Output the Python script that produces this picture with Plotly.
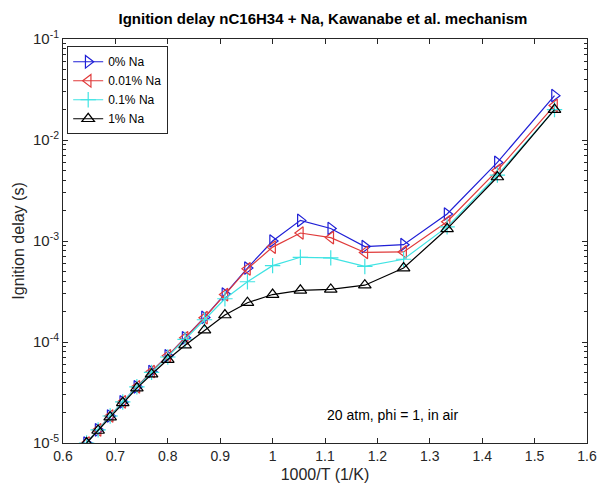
import plotly.graph_objects as go

inv_T = [0.645, 0.667, 0.690, 0.714, 0.741, 0.769, 0.800, 0.833, 0.870, 0.909,
         0.952, 1.000, 1.053, 1.111, 1.176, 1.250, 1.333, 1.429, 1.538]

na_0 = [1.0e-5, 1.35e-5, 1.85e-5, 2.55e-5, 3.6e-5, 5.1e-5, 7.3e-5, 1.1e-4, 1.75e-4, 2.98e-4,
        5.4e-4, 1.0e-3, 1.6e-3, 1.33e-3, 8.8e-4, 9.2e-4, 1.85e-3, 6.0e-3, 2.75e-2]
na_001 = [1.0e-5, 1.35e-5, 1.85e-5, 2.55e-5, 3.6e-5, 5.1e-5, 7.3e-5, 1.1e-4, 1.74e-4, 2.95e-4,
          5.3e-4, 8.7e-4, 1.2e-3, 1.08e-3, 7.7e-4, 7.8e-4, 1.55e-3, 5.0e-3, 2.2e-2]
na_01 = [1.0e-5, 1.35e-5, 1.85e-5, 2.55e-5, 3.6e-5, 5.0e-5, 7.1e-5, 1.06e-4, 1.66e-4, 2.68e-4,
         3.95e-4, 5.7e-4, 6.9e-4, 6.8e-4, 5.6e-4, 6.6e-4, 1.38e-3, 4.5e-3, 2.0e-2]
na_1 = [1.0e-5, 1.33e-5, 1.8e-5, 2.5e-5, 3.5e-5, 4.8e-5, 6.7e-5, 9.3e-5, 1.31e-4, 1.85e-4,
        2.45e-4, 2.95e-4, 3.25e-4, 3.32e-4, 3.65e-4, 5.4e-4, 1.32e-3, 4.3e-3, 2.0e-2]

series_names = ["0% Na", "0.01% Na", "0.1% Na", "1% Na"]
series_vals = [na_0, na_001, na_01, na_1]
colors = ["#1f1fd6", "#e03a3a", "#3fe3e3", "#000000"]
symbols = ["triangle-right-open", "triangle-left-open", "cross-thin-open", "triangle-up-open"]

x_ticks = [0.6, 0.7, 0.8, 0.9, 1.0, 1.1, 1.2, 1.3, 1.4, 1.5, 1.6]
x_ticktext = ["0.6", "0.7", "0.8", "0.9", "1", "1.1", "1.2", "1.3", "1.4", "1.5", "1.6"]
y_ticks = [1e-5, 1e-4, 1e-3, 1e-2, 1e-1]
y_ticktext = ["10<sup>-5</sup>", "10<sup>-4</sup>", "10<sup>-3</sup>", "10<sup>-2</sup>", "10<sup>-1</sup>"]
decades = [1e-5, 1e-4, 1e-3, 1e-2]
minor_digits = [2, 3, 4, 5, 6, 7, 8, 9]
y_minor = [d * m for d in decades for m in minor_digits]

fig = go.Figure()
for name, vals, c, s in zip(series_names, series_vals, colors, symbols):
    fig.add_trace(go.Scatter(
        x=inv_T, y=vals, name=name, mode="lines+markers",
        line=dict(color=c, width=1.2),
        marker=dict(symbol=s, size=11, color=c, line=dict(color=c, width=1.2)),
    ))

axis_col = "#262626"
font_fam = "Arial, Liberation Sans, sans-serif"

fig.update_layout(
    width=598, height=495,
    margin=dict(l=63, r=11, t=39, b=52),
    paper_bgcolor="white", plot_bgcolor="white",
    font=dict(family=font_fam, size=12, color=axis_col),
    title=dict(text="<b>Ignition delay nC16H34 + Na, Kawanabe et al. mechanism</b>",
               x=0.54, xanchor="center", y=0.962, yanchor="middle",
               font=dict(size=15, color="#000000")),
    showlegend=True,
    legend=dict(x=0.008, y=0.982, xanchor="left", yanchor="top",
                bgcolor="white", bordercolor=axis_col, borderwidth=1,
                font=dict(size=12, color="#000000"),
                tracegroupgap=0, itemwidth=30),
    annotations=[dict(x=1.1, y=-4.72, xref="x", yref="y", text="20 atm, phi = 1, in air",
                      showarrow=False, xanchor="left", yanchor="middle",
                      font=dict(size=14, color="#000000"))],
)

fig.update_xaxes(
    range=[0.6, 1.6], tickvals=x_ticks, ticktext=x_ticktext,
    ticks="inside", ticklen=5, tickcolor=axis_col,
    showline=True, linecolor=axis_col, linewidth=1, mirror="ticks",
    showgrid=False, zeroline=False, automargin=False,
    ticklabeloverflow="allow",
    title=dict(text="1000/T (1/K)", font=dict(size=16), standoff=6),
    tickfont=dict(size=14, color=axis_col),
)
fig.update_yaxes(
    type="log", range=[-5, -1], tickvals=y_ticks, ticktext=y_ticktext,
    ticks="inside", ticklen=5, tickcolor=axis_col,
    showline=True, linecolor=axis_col, linewidth=1, mirror="ticks",
    showgrid=False, zeroline=False, automargin=False,
    ticklabeloverflow="allow",
    minor=dict(ticks="inside", ticklen=3, tickcolor=axis_col, showgrid=False,
               tickmode="array", tickvals=y_minor),
    title=dict(text="Ignition delay (s)", font=dict(size=16), standoff=4),
    tickfont=dict(size=15, color=axis_col),
)

fig.write_html("out.html")
